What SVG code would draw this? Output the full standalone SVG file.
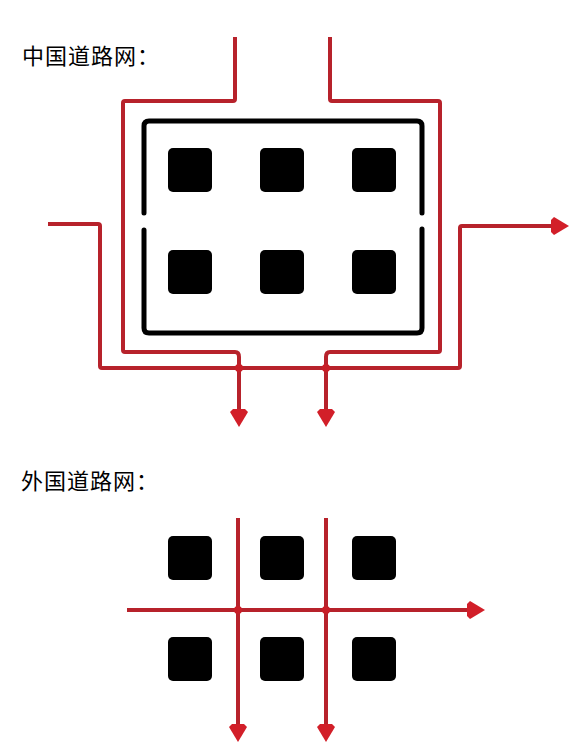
<svg xmlns="http://www.w3.org/2000/svg" width="579" height="754" viewBox="0 0 579 754">
<style>
.title{font-family:"Noto Sans CJK SC","Noto Sans",sans-serif;font-size:22px;letter-spacing:1px;fill:#000}
.blk{fill:#000}
.road{fill:none;stroke:#b7222b;stroke-width:4;stroke-linejoin:round;stroke-linecap:butt}
.wall{fill:none;stroke:#000;stroke-width:5;stroke-linecap:round}
.dot{fill:#c81e27}
</style>
<defs>
<marker id="arr" markerUnits="userSpaceOnUse" markerWidth="22" markerHeight="22" refX="0" refY="0" viewBox="0 -11 22 22" orient="auto" overflow="visible">
<path d="M0,-6 L3,-9 L18,0 L3,9 L0,6 Z" fill="#d21f29"/>
</marker>
</defs>
<rect width="579" height="754" fill="#fff"/>

<g id="title-cn"><text class="title" x="22" y="64">中国道路网：</text></g>
<g id="title-foreign"><text class="title" x="21" y="489">外国道路网：</text></g>

<g id="enclosure">
<path class="wall" d="M144,213 V126 Q144,121 149,121 H417 Q422,121 422,126 V213"/>
<path class="wall" d="M144,230 V328 Q144,333 149,333 H417 Q422,333 422,328 V229"/>
</g>

<g id="blocks-cn">
<rect class="blk" x="168" y="148" width="44" height="44" rx="5"/>
<rect class="blk" x="260" y="148" width="44" height="44" rx="5"/>
<rect class="blk" x="352" y="148" width="44" height="44" rx="5"/>
<rect class="blk" x="168" y="250" width="44" height="44" rx="5"/>
<rect class="blk" x="260" y="250" width="44" height="44" rx="5"/>
<rect class="blk" x="352" y="250" width="44" height="44" rx="5"/>
</g>

<g id="blocks-foreign">
<rect class="blk" x="168" y="536" width="44" height="44" rx="5"/>
<rect class="blk" x="260" y="536" width="44" height="44" rx="5"/>
<rect class="blk" x="352" y="536" width="44" height="44" rx="5"/>
<rect class="blk" x="168" y="637" width="44" height="44" rx="5"/>
<rect class="blk" x="260" y="637" width="44" height="44" rx="5"/>
<rect class="blk" x="352" y="637" width="44" height="44" rx="5"/>
</g>

<g id="connectors">
<path class="road" d="M48,224 H98 Q100,224 100,226 V366 Q100,368 102,368 H458 Q460,368 460,366 V228 Q460,226 462,226 H551" marker-end="url(#arr)"/>
<path class="road" d="M235,37 V99 Q235,101 233,101 H125 Q123,101 123,103 V350 Q123,352 125,352 H235 Q239,352 239,357 V409" marker-end="url(#arr)"/>
<path class="road" d="M330,37 V99 Q330,101 332,101 H438 Q440,101 440,103 V350 Q440,352 438,352 H330 Q326,352 326,357 V409" marker-end="url(#arr)"/>
<circle class="dot" cx="239" cy="368" r="4"/>
<circle class="dot" cx="326" cy="368" r="4"/>

<path class="road" d="M238,518 V724" marker-end="url(#arr)"/>
<path class="road" d="M326,518 V724" marker-end="url(#arr)"/>
<path class="road" d="M127,610 H467" marker-end="url(#arr)"/>
<circle class="dot" cx="238" cy="610" r="4"/>
<circle class="dot" cx="326" cy="610" r="4"/>
</g>
</svg>
